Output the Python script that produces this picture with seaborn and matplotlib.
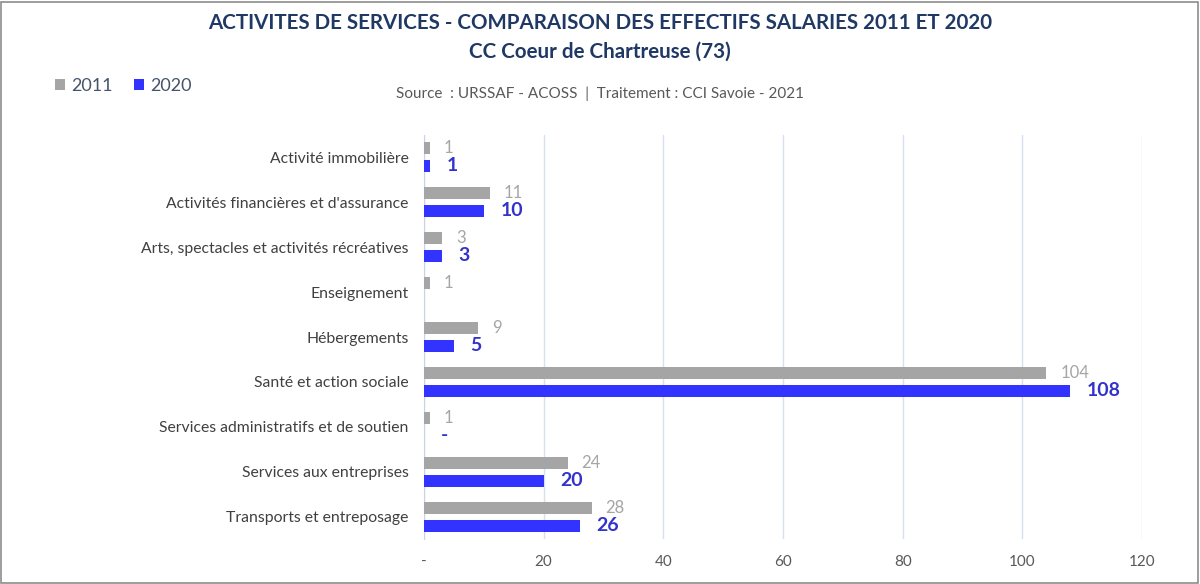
import matplotlib.pyplot as plt
import pandas as pd
import seaborn as sns
from matplotlib.patches import Rectangle

# Data
categories = ["Activité immobilière", "Activités financières et d'assurance",
              "Arts, spectacles et activités récréatives", "Enseignement",
              "Hébergements", "Santé et action sociale",
              "Services administratifs et de soutien", "Services aux entreprises",
              "Transports et entreposage"]
effectifs_2011 = [1, 11, 3, 1, 9, 104, 1, 24, 28]
effectifs_2020 = [1, 10, 3, None, 5, 108, 0, 20, 26]
years = ['2011', '2020']
x_ticks = [0, 20, 40, 60, 80, 100, 120]
x_tick_labels = ['-', '20', '40', '60', '80', '100', '120']

df = pd.DataFrame({
    'Secteur': categories * 2,
    'Annee': [years[0]] * len(categories) + [years[1]] * len(categories),
    'Effectif': effectifs_2011 + effectifs_2020,
})
df['Effectif'] = df['Effectif'].fillna(0)

sns.set_style('white')
plt.rcParams['font.family'] = ['Lato', 'DejaVu Sans']

grey = '#a5a5a5'
blue = '#3333ff'
navy = '#1f3864'

fig = plt.figure(figsize=(12, 5.84), dpi=100)
ax = fig.add_axes([0.35333, 0.0762, 0.59833, 0.69349])

sns.barplot(data=df, x='Effectif', y='Secteur', hue='Annee', orient='h',
            order=categories, hue_order=years, palette=[grey, blue],
            saturation=1, width=0.78, gap=0.3, linewidth=0,
            ax=ax, errorbar=None, zorder=3)

# Value labels
def fmt(v):
    if v is None:
        return ''
    return '-' if v == 0 else str(v)

ax.bar_label(ax.containers[0], labels=[fmt(v) for v in effectifs_2011],
             padding=10, color=grey, fontsize=12)
ax.bar_label(ax.containers[1], labels=[fmt(v) for v in effectifs_2020],
             padding=12, color='#3333cc', fontsize=14, fontweight='bold')

ax.set_xlim(0, 120)
ax.set_ylim(len(categories) - 0.5, -0.5)
ax.set_xticks(x_ticks)
ax.set_xticklabels(x_tick_labels)
ax.grid(axis='x', color='#d6e0ee', linewidth=1, zorder=0)
for s in ['top', 'right', 'bottom']:
    ax.spines[s].set_visible(False)
ax.spines['left'].set_color('#c8d4e6')
ax.tick_params(axis='x', length=0, pad=11, labelsize=11, labelcolor='#595959')
ax.tick_params(axis='y', length=0, pad=11, labelsize=11.3, labelcolor='#404040')
ax.set_xlabel('')
ax.set_ylabel('')

sns.move_legend(ax, loc='center left', bbox_to_anchor=(0.032, 0.853),
                bbox_transform=fig.transFigure, ncol=2, frameon=False,
                title=None, fontsize=13, handlelength=0.55, handleheight=0.55,
                handletextpad=0.35, columnspacing=1.2)
for t in ax.get_legend().get_texts():
    t.set_color('#44546a')

fig.text(0.5, 0.96, 'ACTIVITES DE SERVICES - COMPARAISON DES EFFECTIFS SALARIES 2011 ET 2020',
         ha='center', va='center', fontsize=14.8, fontweight='bold', color=navy)
fig.text(0.5, 0.912, 'CC Coeur de Chartreuse (73)',
         ha='center', va='center', fontsize=14.8, fontweight='bold', color=navy)
fig.text(0.5, 0.84, 'Source  : URSSAF - ACOSS  |  Traitement : CCI Savoie - 2021',
         ha='center', va='center', fontsize=11, color='#595959')

fig.patches.append(Rectangle((0.001, 0.002), 0.997, 0.995, transform=fig.transFigure,
                             fill=False, edgecolor='#8c8c8c', linewidth=1.2))

fig.savefig('out.png', dpi=100)
